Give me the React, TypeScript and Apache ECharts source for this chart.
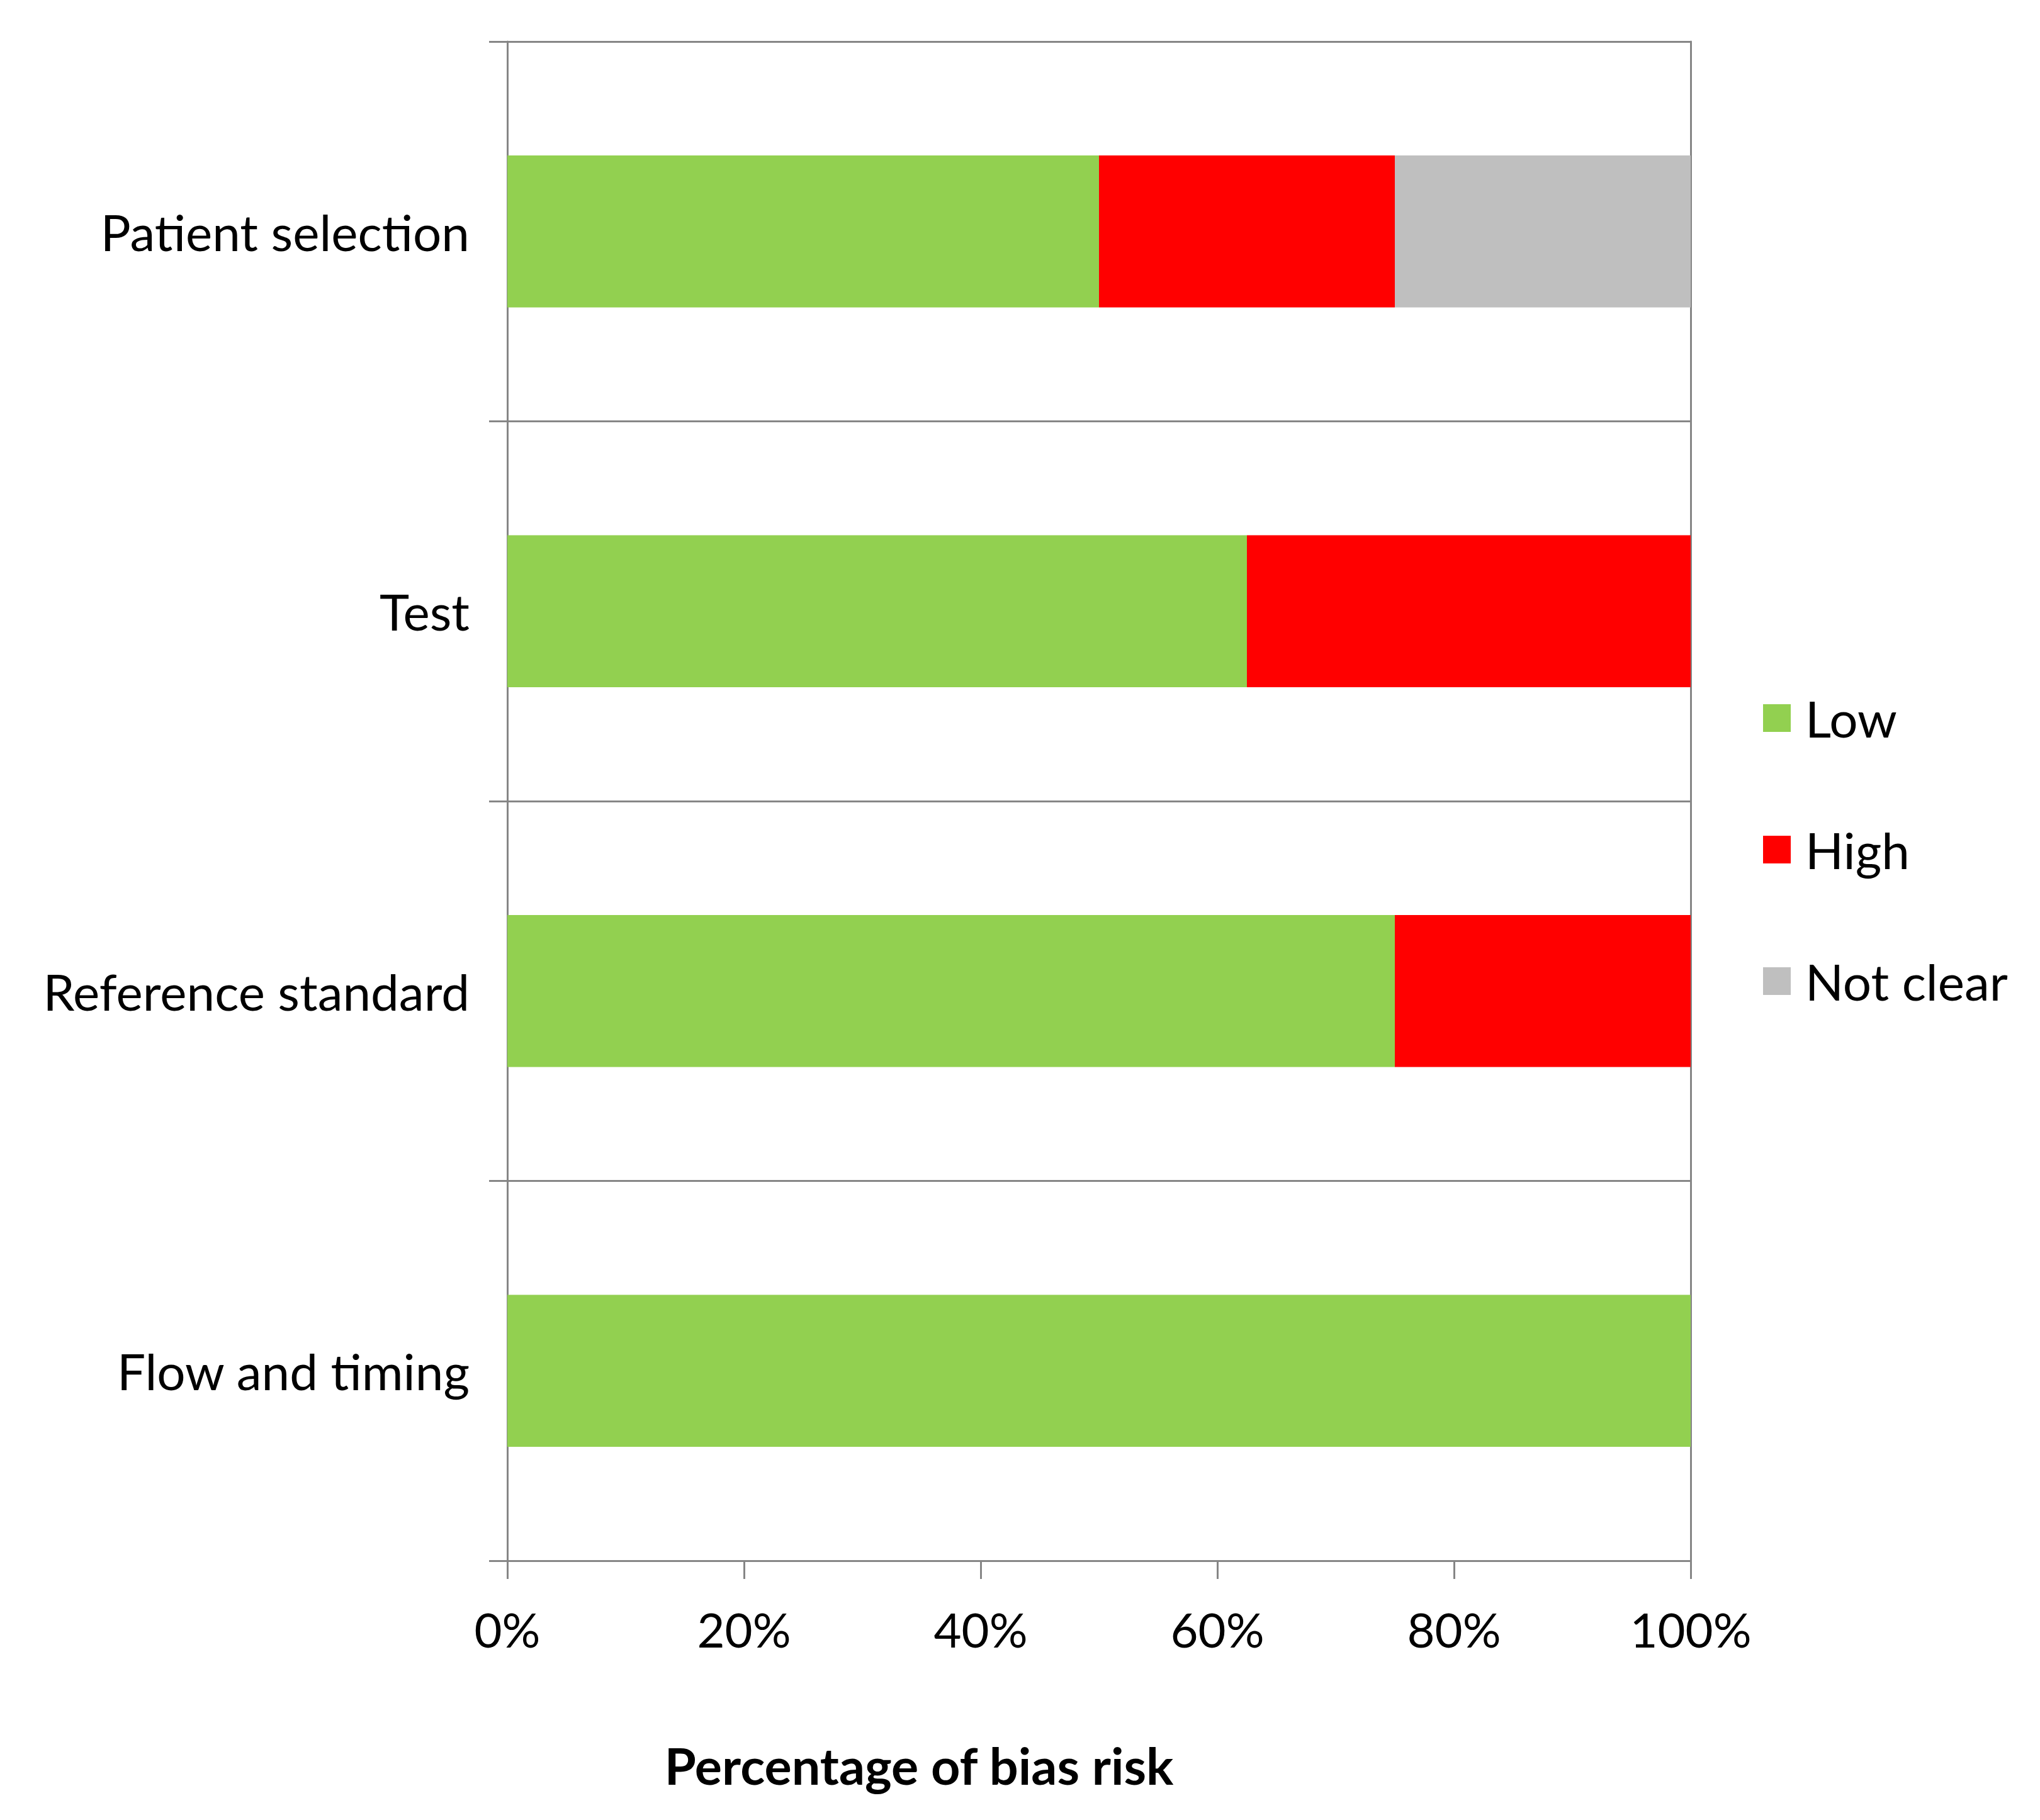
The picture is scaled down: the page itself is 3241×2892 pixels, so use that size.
import React, { useEffect, useRef } from "react";
import * as echarts from "echarts";

const categories = ["Patient selection", "Test", "Reference standard", "Flow and timing"];
const lowValues = [50, 62.5, 75, 100];
const highValues = [25, 37.5, 25, 0];
const notClearValues = [25, 0, 0, 0];
const seriesNames = ["Low", "High", "Not clear"];
const xTickMax = 100;
const xTickStep = 20;
const axisTitle = "Percentage of bias risk";

const FONT = "Lato, 'Open Sans', sans-serif";
const LINE = "#868686";

export default function App() {
  const ref = useRef<HTMLDivElement>(null);
  useEffect(() => {
    document.body.style.margin = "0";
    const chart = echarts.init(ref.current!, null, { renderer: "svg" });
    const catAxisBase = {
      type: "category" as const,
      data: categories,
      inverse: true,
    };
    chart.setOption({
      animation: false,
      backgroundColor: "#ffffff",
      textStyle: { fontFamily: FONT },
      grid: { left: 806, top: 66, width: 1880, height: 2414, containLabel: false },
      legend: {
        orient: "vertical",
        left: 2796,
        top: 1096,
        itemWidth: 44,
        itemHeight: 44,
        itemGap: 129,
        icon: "rect",
        data: seriesNames,
        textStyle: { fontFamily: FONT, fontSize: 80, color: "#000", padding: [0, 0, 0, 18] },
      },
      xAxis: {
        type: "value",
        min: 0,
        max: xTickMax,
        interval: xTickStep,
        axisLine: { show: true, lineStyle: { color: LINE, width: 3 } },
        axisTick: { show: true, length: 29, lineStyle: { color: LINE, width: 3 } },
        splitLine: { show: false },
        axisLabel: {
          formatter: "{value}%",
          fontFamily: FONT,
          fontSize: 76,
          color: "#000",
          margin: 70,
        },
      },
      yAxis: [
        {
          ...catAxisBase,
          position: "left",
          axisLine: { show: true, lineStyle: { color: LINE, width: 3 } },
          axisTick: { show: true, length: 29, lineStyle: { color: LINE, width: 3 } },
          splitLine: { show: true, lineStyle: { color: LINE, width: 3 } },
          axisLabel: { fontFamily: FONT, fontSize: 80, color: "#000", margin: 60, padding: [0, 0, 12, 0] },
        },
        {
          ...catAxisBase,
          position: "right",
          axisLine: { show: true, lineStyle: { color: LINE, width: 3 } },
          axisTick: { show: false },
          splitLine: { show: false },
          axisLabel: { show: false },
        },
      ],
      series: [
        { name: seriesNames[0], type: "bar", stack: "total", data: lowValues, barWidth: "40%", itemStyle: { color: "#92D050" } },
        { name: seriesNames[1], type: "bar", stack: "total", data: highValues, barWidth: "40%", itemStyle: { color: "#FF0000" } },
        { name: seriesNames[2], type: "bar", stack: "total", data: notClearValues, barWidth: "40%", itemStyle: { color: "#BFBFBF" } },
      ],
      graphic: [
        {
          type: "text",
          x: 1460,
          y: 2804,
          style: {
            text: axisTitle,
            fontFamily: FONT,
            fontSize: 81,
            fontWeight: "bold",
            fill: "#000",
            textAlign: "center",
            textVerticalAlign: "middle",
          },
        },
      ],
    });
    return () => chart.dispose();
  }, []);
  return <div ref={ref} style={{ width: 3241, height: 2892 }} />;
}
